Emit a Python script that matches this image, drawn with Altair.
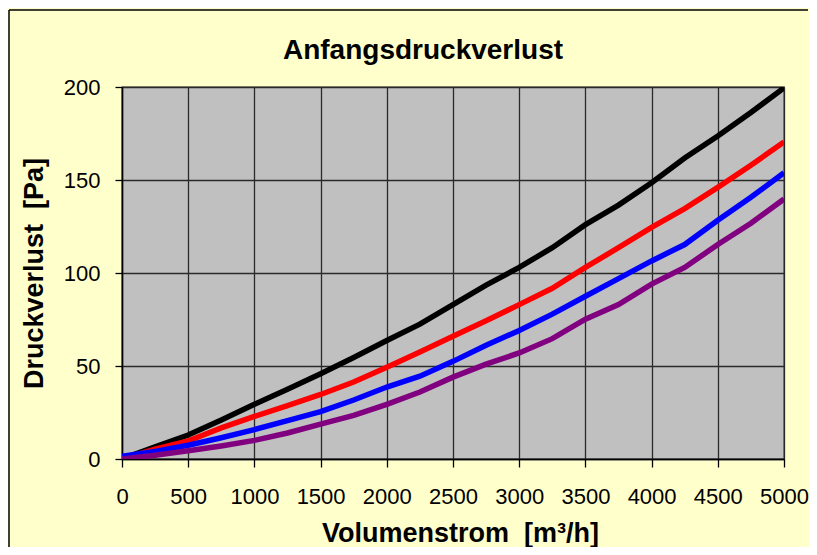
import altair as alt
import pandas as pd

# Volume flow [m3/h]
volumenstrom = [0, 250, 500, 750, 1000, 1250, 1500, 1750, 2000, 2250, 2500,
                2750, 3000, 3250, 3500, 3750, 4000, 4250, 4500, 4750, 5000]

# Pressure loss [Pa] per curve
schwarz = [0, 6.5, 12.9, 21, 29.4, 37.5, 45.8, 54.6, 63.7, 72.5, 83,
           93.5, 103, 113.6, 126, 136.5, 148.5, 161.8, 173.7, 186.3, 199.5]
rot = [0, 5.3, 9.7, 16.7, 22.9, 28.7, 34.7, 41.4, 49.3, 57.5, 66,
       74.3, 83, 91.8, 103, 113.6, 124.5, 134.6, 146, 157.9, 170.5]
blau = [1.5, 4, 7.4, 11.4, 15.8, 20.6, 25.5, 31.7, 38.7, 44.5, 52.5,
        61.2, 69.1, 77.9, 87.5, 97, 106.5, 115.3, 128.4, 140.7, 153.9]
lila = [0, 2, 4.4, 7, 10, 14, 18.8, 23.5, 29.4, 36, 44,
        51, 57, 64.7, 75.2, 83, 94, 103, 115.3, 126.7, 139.8]

serien = ["Kurve 1", "Kurve 2", "Kurve 3", "Kurve 4"]
farben = ["#000000", "#FF0000", "#0000FF", "#800080"]
x_ticks = [0, 500, 1000, 1500, 2000, 2500, 3000, 3500, 4000, 4500, 5000]
y_ticks = [0, 50, 100, 150, 200]

rows = []
for name, werte in zip(serien, [schwarz, rot, blau, lila]):
    for v, p in zip(volumenstrom, werte):
        rows.append({"Volumenstrom": v, "Druckverlust": p, "Kurve": name})
df = pd.DataFrame(rows)

FONT = "Liberation Sans"
NB = "\u00a0"

lines = alt.Chart(df).mark_line(strokeWidth=5.5, clip=True).encode(
    x=alt.X(
        "Volumenstrom:Q",
        scale=alt.Scale(domain=[0, 5000], nice=False),
        axis=alt.Axis(
            title="Volumenstrom" + NB + NB + "[m³/h]",
            values=x_ticks,
            format="d",
            grid=True,
            gridColor="#2a2a2a",
            gridWidth=1.3,
            domainColor="#000000",
            domainWidth=1.5,
            tickColor="#000000",
            tickSize=8,
            tickWidth=1.3,
            labelFont=FONT,
            labelFontSize=22,
            labelColor="#000000",
            labelBaseline="alphabetic",
            labelPadding=36,
            labelFlush=False,
            titleFont=FONT,
            titleFontSize=27,
            titleFontWeight="bold",
            titleColor="#000000",
            titleX=338,
            titleY=82,
            titleBaseline="alphabetic",
            titleAnchor="middle",
        ),
    ),
    y=alt.Y(
        "Druckverlust:Q",
        scale=alt.Scale(domain=[0, 200], nice=False),
        axis=alt.Axis(
            title="Druckverlust" + NB + NB + "[Pa]",
            values=y_ticks,
            grid=True,
            gridColor="#2a2a2a",
            gridWidth=1.3,
            domainColor="#000000",
            domainWidth=1.5,
            tickColor="#000000",
            tickSize=7,
            tickWidth=1.3,
            labelFont=FONT,
            labelFontSize=22,
            labelColor="#000000",
            labelPadding=15,
            labelBaseline="middle",
            labelFlush=False,
            titleFont=FONT,
            titleFontSize=27,
            titleFontWeight="bold",
            titleColor="#000000",
            titleX=-80,
            titleY=186,
            titleAngle=270,
            titleBaseline="alphabetic",
            titleAnchor="middle",
        ),
    ),
    color=alt.Color(
        "Kurve:N",
        scale=alt.Scale(domain=serien, range=farben),
        legend=None,
    ),
)

one = alt.Data(values=[{"a": 1}])
frame_top = alt.Chart(one).mark_rule(
    stroke="#000000", strokeWidth=1.5, clip=False
).encode(x=alt.value(-113), x2=alt.value(686), y=alt.value(-77))
frame_left = alt.Chart(one).mark_rule(
    stroke="#000000", strokeWidth=1.5, clip=False
).encode(x=alt.value(-113), y=alt.value(-77), y2=alt.value(460))

chart = alt.layer(frame_top, frame_left, lines).properties(
    width=662,
    height=372,
    padding={"left": 114, "top": 79, "right": 25, "bottom": 88},
    autosize=alt.AutoSizeParams(type="none"),
    background="#FFFFCC",
    title=alt.TitleParams(
        text="Anfangsdruckverlust",
        font=FONT,
        fontSize=28,
        fontWeight="bold",
        color="#000000",
        anchor="middle",
        frame="group",
        baseline="alphabetic",
        offset=-77.75,
        dx=-30,
    ),
).configure_view(
    fill="#C0C0C0",
    stroke="#2a2a2a",
    strokeWidth=1.3,
)

chart.save("out.html", embed_options={"renderer": "svg", "actions": False})
